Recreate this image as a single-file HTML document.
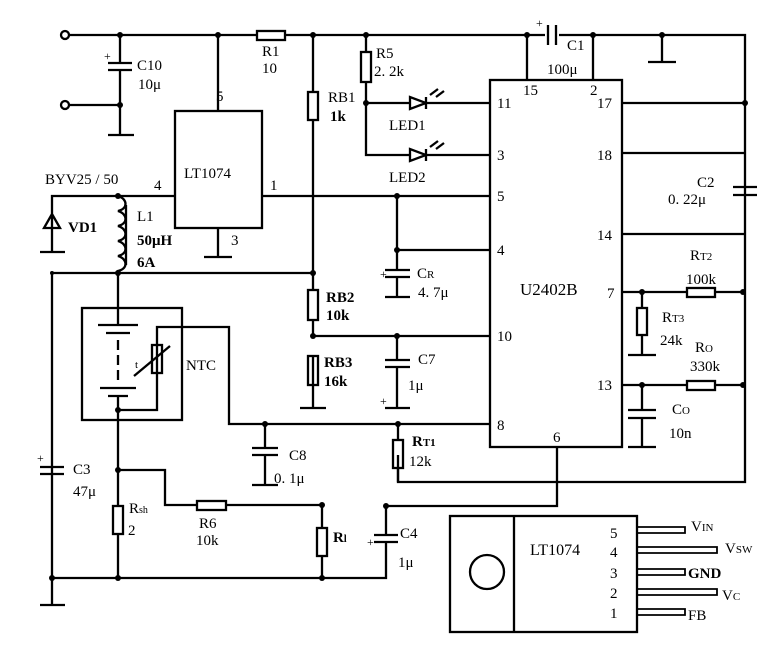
<!DOCTYPE html>
<html><head><meta charset="utf-8"><style>
html,body{margin:0;padding:0;background:#fff}
svg{display:block}
text{font-family:"Liberation Serif",serif;fill:#000}
</style></head><body>
<svg width="784" height="648" viewBox="0 0 784 648" xmlns="http://www.w3.org/2000/svg">
<g stroke="#000" stroke-width="2.3" fill="none">
<path d="M69 35H257M285 35H545M559 35H745V482H398V455"/>
<circle cx="65" cy="35" r="4" fill="#fff"/>
<circle cx="65" cy="105" r="4" fill="#fff"/>
<path d="M69 105H120"/>
<path d="M120 35V63M108 63H132M108 70H132M120 70V135M108 135H134" />
<rect x="257" y="31" width="28" height="9"/>
<rect x="175" y="111" width="87" height="117"/>
<path d="M218 35V111M218 228V257M204 257H232"/>
<path d="M175 196H52V200M262 196H490"/>
<path d="M52 200V252M40 252H65M44 228H60M52 214L44 228H60Z"/>
<path d="M118 196c10 3 10 13 0 15c10 3 10 13 0 15c10 3 10 13 0 15c10 3 10 13 0 15c10 3 10 13 0 15V273"/>
<path d="M126 205V265"/>
<path d="M52 273H313M52 273V605M40 605H65"/>
<path d="M313 35V92M313 120V290M313 320V336M313 356V385M313 385V408M300 408H326"/>
<rect x="308" y="92" width="10" height="28"/>
<rect x="308" y="290" width="10" height="30"/>
<rect x="308" y="356" width="10" height="29"/>
<path d="M313 336H490"/>
<path d="M366 35V52M366 82V155H410M366 103H410"/>
<rect x="361" y="52" width="10" height="30"/>
<path d="M410 97V109L426 103ZM426 97V109M426 103H490M410 149V161L426 155ZM426 149V161M426 155H490"/>
<path d="M430 95l8 -6M436 97l8 -6M430 147l8 -6M436 149l8 -6"/>
<path d="M527 35V80M593 35V80M548 25V45M556 25V45"/>
<path d="M662 35V62M648 62H676"/>
<rect x="490" y="80" width="132" height="367"/>
<path d="M622 103H745M622 153H745M622 234H745"/>
<path d="M733 187H757M733 195H757"/>
<path d="M397 196V250H490M397 250V270M385 270H410M385 277H410M397 277V297M385 297H410"/>
<path d="M397 336V360M385 360H410M385 367H410M397 367V408M385 408H410"/>
<path d="M622 292H687M715 292H743M642 292V308M642 335V355M628 355H656"/>
<rect x="687" y="288" width="28" height="9"/><rect x="637" y="308" width="10" height="27"/>
<path d="M622 385H687M715 385H743M642 385V410M628 410H656M628 418H656M642 418V447M628 447H656"/>
<rect x="687" y="381" width="28" height="9"/>
<rect x="82" y="308" width="100" height="112"/>
<path d="M118 273V325M98 325H138M106 333H130M118 340V350M118 355V365M118 370V380M100 388H136M108 396H128M118 396V470"/>
<path d="M118 410H157V327H229V424H490"/>
<rect x="152" y="345" width="10" height="28"/>
<path d="M134 376L170 346"/>
<path d="M265 424V448M252 448H278M252 455H278M265 455V485M252 485H278"/>
<path d="M398 424V440"/><rect x="393" y="440" width="10" height="28"/><path d="M398 468V482"/>
<path d="M557 447V506H386"/>
<path d="M40 467H64M40 474H64"/>
<path d="M118 470H165V505H197M226 505H322M118 470V506M118 534V578M52 578H386V542M386 506V535M374 535H398M374 542H398"/>
<rect x="113" y="506" width="10" height="28"/>
<rect x="197" y="501" width="29" height="9"/>
<rect x="317" y="528" width="10" height="28"/><path d="M322 505V528M322 556V578"/>
<rect x="450" y="516" width="187" height="116"/>
<path d="M514 516V632"/>
<circle cx="487" cy="572" r="17"/>
<path d="M637 527H685V533H637M637 547H717V553H637M637 569H685V575H637M637 589H717V595H637M637 609H685V615H637" stroke-width="1.8"/>
</g>
<g fill="#000">
<circle cx="120" cy="35" r="3"/><circle cx="120" cy="105" r="3"/><circle cx="218" cy="35" r="3"/><circle cx="313" cy="35" r="3"/>
<circle cx="366" cy="35" r="3"/><circle cx="527" cy="35" r="3"/><circle cx="593" cy="35" r="3"/><circle cx="662" cy="35" r="3"/>
<circle cx="366" cy="103" r="3"/><circle cx="745" cy="103" r="3"/><circle cx="397" cy="196" r="3"/><circle cx="397" cy="250" r="3"/>
<circle cx="118" cy="196" r="3"/><circle cx="118" cy="273" r="3"/><circle cx="313" cy="273" r="3"/><circle cx="313" cy="336" r="3"/>
<circle cx="397" cy="336" r="3"/><circle cx="642" cy="292" r="3"/><circle cx="743" cy="292" r="3"/><circle cx="642" cy="385" r="3"/>
<circle cx="743" cy="385" r="3"/><circle cx="118" cy="410" r="3"/><circle cx="265" cy="424" r="3"/><circle cx="398" cy="424" r="3"/>
<circle cx="118" cy="470" r="3"/><circle cx="322" cy="505" r="3"/><circle cx="386" cy="506" r="3"/><circle cx="52" cy="578" r="3"/>
<circle cx="118" cy="578" r="3"/><circle cx="322" cy="578" r="3"/><circle cx="52" cy="273" r="2"/>
</g>
<g font-size="15">
<text x="137" y="70">C10</text><text x="138" y="89">10μ</text>
<text x="262" y="56">R1</text><text x="262" y="73">10</text>
<text x="216" y="101">5</text><text x="184" y="178">LT1074</text>
<text x="45" y="184">BYV25 / 50</text><text x="154" y="190">4</text><text x="270" y="190">1</text><text x="231" y="245">3</text>
<text x="68" y="232" font-weight="bold">VD1</text><text x="137" y="221">L1</text><text x="137" y="245" font-weight="bold">50μH</text><text x="137" y="267" font-weight="bold">6A</text>
<text x="328" y="102">RB1</text><text x="330" y="121" font-weight="bold">1k</text>
<text x="376" y="58">R5</text><text x="374" y="76">2. 2k</text>
<text x="389" y="130">LED1</text><text x="389" y="182">LED2</text>
<text x="567" y="50">C1</text><text x="547" y="74">100μ</text>
<text x="523" y="95">15</text><text x="590" y="95">2</text>
<text x="497" y="108">11</text><text x="497" y="160">3</text><text x="497" y="201">5</text><text x="497" y="255">4</text><text x="497" y="341">10</text><text x="497" y="430">8</text><text x="553" y="442">6</text>
<text x="597" y="108">17</text><text x="597" y="160">18</text><text x="597" y="240">14</text><text x="607" y="298">7</text><text x="597" y="390">13</text>
<text x="520" y="295" font-size="17">U2402B</text>
<text x="697" y="187">C2</text><text x="668" y="204">0. 22μ</text>
<text x="690" y="260">R<tspan font-size="11">T2</tspan></text><text x="686" y="284">100k</text>
<text x="662" y="322">R<tspan font-size="11">T3</tspan></text><text x="660" y="345">24k</text>
<text x="695" y="352">R<tspan font-size="11">O</tspan></text><text x="690" y="371">330k</text>
<text x="672" y="414">C<tspan font-size="11">O</tspan></text><text x="669" y="438">10n</text>
<text x="417" y="278">C<tspan font-size="11">R</tspan></text><text x="418" y="297">4. 7μ</text>
<text x="326" y="302" font-weight="bold">RB2</text><text x="326" y="320" font-weight="bold">10k</text>
<text x="324" y="367" font-weight="bold">RB3</text><text x="324" y="386" font-weight="bold">16k</text>
<text x="418" y="364">C7</text><text x="408" y="390">1μ</text>
<text x="186" y="370">NTC</text><text x="135" y="368" font-size="11">t</text>
<text x="289" y="460">C8</text><text x="274" y="483">0. 1μ</text>
<text x="412" y="446" font-weight="bold">R<tspan font-size="11">T1</tspan></text><text x="409" y="466">12k</text>
<text x="37" y="462" font-size="12">+</text><text x="73" y="474">C3</text><text x="73" y="496">47μ</text>
<text x="129" y="513">R<tspan font-size="10">sh</tspan></text><text x="128" y="535">2</text>
<text x="199" y="528">R6</text><text x="196" y="545">10k</text>
<text x="333" y="542" font-weight="bold">R<tspan font-size="10">l</tspan></text>
<text x="400" y="538">C4</text><text x="398" y="567">1μ</text>
<text x="367" y="546" font-size="12">+</text><text x="380" y="405" font-size="12">+</text><text x="380" y="278" font-size="12">+</text><text x="536" y="27" font-size="12">+</text><text x="104" y="60" font-size="12">+</text>
<text x="530" y="555" font-size="16">LT1074</text>
<text x="610" y="538">5</text><text x="610" y="557">4</text><text x="610" y="578">3</text><text x="610" y="598">2</text><text x="610" y="618">1</text>
<text x="691" y="531">V<tspan font-size="11">IN</tspan></text><text x="725" y="553">V<tspan font-size="11">SW</tspan></text>
<text x="688" y="578" font-weight="bold">GND</text><text x="722" y="600">V<tspan font-size="11">C</tspan></text><text x="688" y="620">FB</text>
</g>
</svg>
</body></html>
